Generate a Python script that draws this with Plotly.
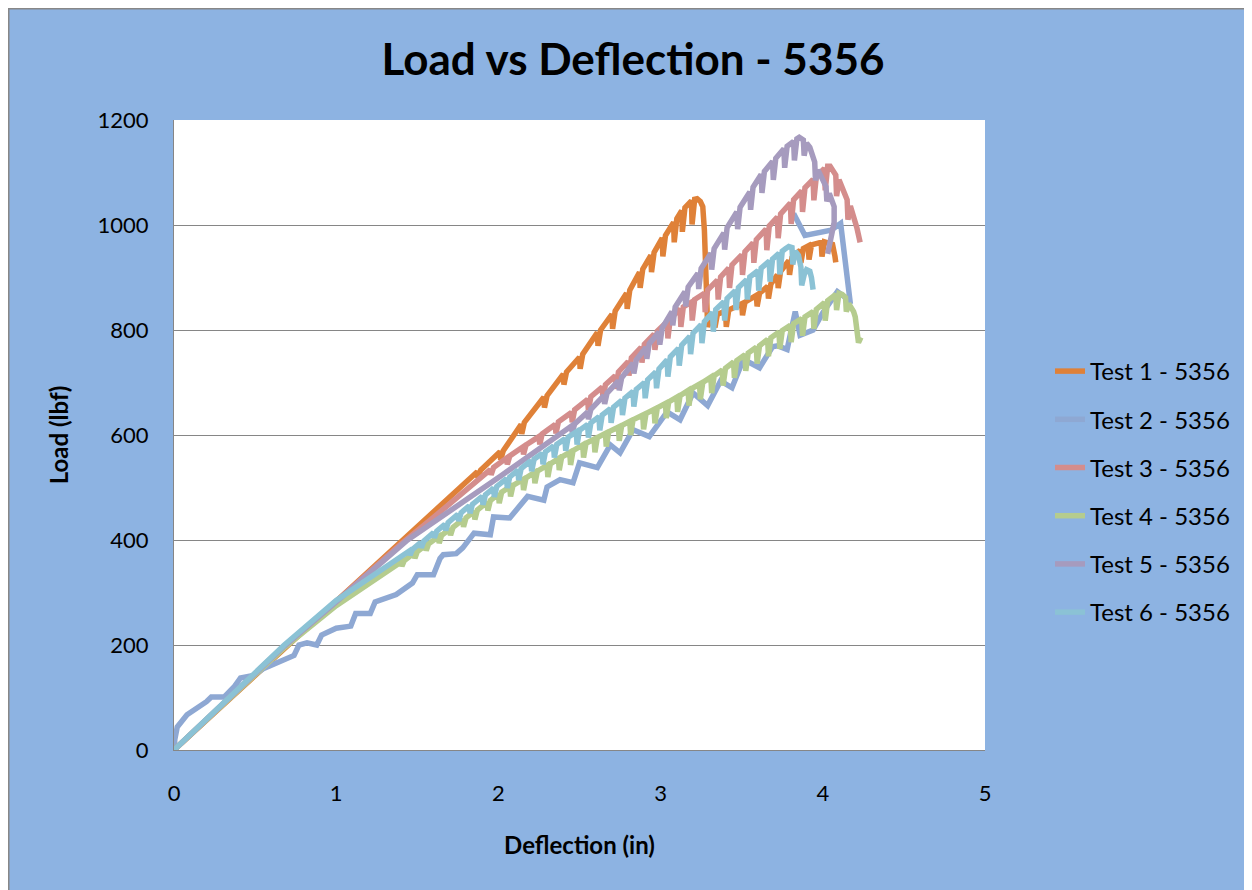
import plotly.graph_objects as go

# ---------------- text ----------------
title_text = "Load vs Deflection - 5356"
x_title = "Deflection (in)"
y_title = "Load (lbf)"
series_names = ["Test 1 - 5356", "Test 2 - 5356", "Test 3 - 5356",
                "Test 4 - 5356", "Test 5 - 5356", "Test 6 - 5356"]
series_colors = ["#DF8138", "#8EA8D3", "#D48D8C", "#B5CC8E", "#A69BBE", "#8BC2D5"]
x_ticks = [0, 1, 2, 3, 4, 5]
y_ticks = [0, 200, 400, 600, 800, 1000, 1200]

# ---------------- data (deflection in, load lbf) ----------------
test1 = [(0, 0), (0.5, 142), (1.0, 284), (1.5, 425), (1.76, 501),
         (1.87, 530), (1.874, 518), (1.89, 533),
         (2.01, 568), (2.014, 553), (2.03, 570),
         (2.14, 620), (2.144, 602), (2.16, 624),
         (2.28, 672), (2.284, 652), (2.30, 675),
         (2.40, 716), (2.404, 696), (2.42, 720),
         (2.50, 748), (2.504, 726), (2.52, 754),
         (2.61, 795), (2.614, 770), (2.63, 800),
         (2.70, 830), (2.704, 802), (2.72, 836),
         (2.79, 870), (2.794, 840), (2.81, 876),
         (2.87, 910), (2.874, 880), (2.89, 916),
         (2.94, 942), (2.944, 910), (2.96, 948),
         (3.01, 975), (3.014, 940), (3.03, 980),
         (3.08, 1005), (3.084, 967), (3.10, 1012),
         (3.13, 1027), (3.134, 987), (3.15, 1033),
         (3.19, 1046), (3.194, 1001), (3.21, 1049),
         (3.225, 1050), (3.245, 1045), (3.26, 1035),
         (3.27, 990), (3.28, 900), (3.29, 806),
         (3.30, 815), (3.33, 826), (3.335, 805), (3.35, 830),
         (3.40, 836), (3.405, 806), (3.42, 838),
         (3.50, 850), (3.505, 828), (3.52, 853),
         (3.59, 866), (3.595, 845), (3.61, 870),
         (3.66, 883), (3.665, 860), (3.68, 888),
         (3.72, 905), (3.725, 880), (3.74, 912),
         (3.79, 932), (3.795, 905), (3.81, 938),
         (3.86, 952), (3.865, 928), (3.88, 955),
         (3.91, 960), (3.915, 934), (3.93, 962),
         (3.99, 967), (3.995, 940), (4.01, 968),
         (4.06, 963), (4.075, 940), (4.08, 929)]

test2 = [(0, 0), (0.005, 20), (0.02, 44), (0.08, 67), (0.20, 92), (0.23, 101),
         (0.31, 101), (0.37, 120), (0.41, 137), (0.49, 142), (0.55, 155),
         (0.65, 168), (0.74, 180), (0.77, 200), (0.82, 204), (0.88, 200),
         (0.91, 219), (1.00, 232), (1.09, 236), (1.12, 260), (1.21, 260),
         (1.24, 282), (1.30, 288), (1.37, 296), (1.47, 318), (1.50, 334),
         (1.60, 334), (1.64, 365), (1.66, 372), (1.74, 374), (1.78, 385),
         (1.85, 413), (1.95, 410), (1.97, 444), (2.07, 442), (2.18, 483),
         (2.28, 476), (2.30, 501), (2.38, 515), (2.46, 509), (2.50, 547),
         (2.61, 538), (2.69, 581), (2.75, 566), (2.83, 610), (2.93, 597),
         (3.04, 644), (3.12, 629), (3.20, 680), (3.29, 656), (3.37, 703),
         (3.44, 690), (3.51, 744), (3.61, 728), (3.69, 768), (3.72, 770),
         (3.78, 763), (3.83, 835), (3.86, 790), (3.94, 800), (4.00, 833),
         (4.06, 862), (4.09, 873), (4.14, 862), (4.17, 850), (4.11, 1003),
         (4.05, 990), (3.89, 980), (3.82, 1022)]

test3 = [(0, 0), (0.68, 198), (1.0, 283), (1.39, 390), (1.60, 443), (1.81, 497),
         (1.95, 534), (1.955, 524), (1.97, 538),
         (2.05, 556), (2.055, 544), (2.07, 560),
         (2.15, 577), (2.155, 563), (2.17, 581),
         (2.25, 597), (2.255, 582), (2.27, 602),
         (2.35, 620), (2.355, 603), (2.37, 625),
         (2.45, 643), (2.455, 624), (2.47, 648),
         (2.55, 668), (2.555, 647), (2.57, 673),
         (2.64, 691), (2.645, 668), (2.66, 696),
         (2.72, 713), (2.725, 688), (2.74, 720),
         (2.80, 740), (2.805, 713), (2.82, 747),
         (2.88, 767), (2.885, 738), (2.90, 773),
         (2.96, 792), (2.965, 762), (2.98, 798),
         (3.04, 816), (3.045, 784), (3.06, 822),
         (3.12, 840), (3.125, 806), (3.14, 844),
         (3.19, 853), (3.195, 818), (3.21, 858),
         (3.27, 870), (3.275, 834), (3.29, 876),
         (3.35, 895), (3.355, 858), (3.37, 901),
         (3.42, 918), (3.425, 880), (3.44, 924),
         (3.50, 943), (3.505, 905), (3.52, 949),
         (3.57, 966), (3.575, 928), (3.59, 972),
         (3.65, 992), (3.655, 952), (3.67, 998),
         (3.72, 1015), (3.725, 975), (3.74, 1021),
         (3.80, 1042), (3.805, 1002), (3.82, 1048),
         (3.87, 1065), (3.875, 1025), (3.89, 1071),
         (3.94, 1087), (3.945, 1047), (3.96, 1092),
         (4.01, 1108), (4.015, 1066), (4.03, 1112), (4.045, 1112),
         (4.08, 1095), (4.085, 1055), (4.10, 1086),
         (4.15, 1048), (4.155, 1010), (4.17, 1036),
         (4.21, 995), (4.23, 967)]

test4 = [(0, 0), (0.68, 195), (1.0, 275),
         (1.40, 358), (1.405, 350), (1.42, 361),
         (1.48, 375), (1.485, 365), (1.50, 378),
         (1.55, 390), (1.555, 380), (1.57, 393),
         (1.63, 406), (1.635, 394), (1.65, 409),
         (1.70, 421), (1.705, 409), (1.72, 424),
         (1.78, 439), (1.785, 425), (1.80, 442),
         (1.85, 454), (1.855, 439), (1.87, 457),
         (1.93, 472), (1.935, 456), (1.95, 475),
         (2.00, 488), (2.005, 470), (2.02, 491),
         (2.07, 501), (2.075, 483), (2.09, 504),
         (2.15, 515), (2.155, 495), (2.17, 518),
         (2.22, 528), (2.225, 508), (2.24, 531),
         (2.30, 542), (2.305, 520), (2.32, 545),
         (2.37, 555), (2.375, 533), (2.39, 558),
         (2.44, 567), (2.445, 543), (2.46, 570),
         (2.52, 581), (2.525, 557), (2.54, 584),
         (2.59, 592), (2.595, 567), (2.61, 595),
         (2.66, 603), (2.665, 578), (2.68, 606),
         (2.74, 615), (2.745, 589), (2.76, 618),
         (2.81, 626), (2.815, 600), (2.83, 629),
         (2.89, 638), (2.895, 611), (2.91, 641),
         (2.96, 649), (2.965, 622), (2.98, 652),
         (3.03, 660), (3.035, 632), (3.05, 663),
         (3.10, 672), (3.105, 644), (3.12, 675),
         (3.17, 685), (3.175, 656), (3.19, 688),
         (3.24, 697), (3.245, 668), (3.26, 700),
         (3.31, 710), (3.315, 680), (3.33, 713),
         (3.38, 724), (3.385, 694), (3.40, 727),
         (3.45, 739), (3.455, 709), (3.47, 742),
         (3.52, 753), (3.525, 722), (3.54, 756),
         (3.59, 767), (3.595, 736), (3.61, 770),
         (3.66, 782), (3.665, 750), (3.68, 785),
         (3.73, 796), (3.735, 764), (3.75, 799),
         (3.80, 809), (3.805, 777), (3.82, 812),
         (3.87, 822), (3.875, 789), (3.89, 825),
         (3.94, 835), (3.945, 802), (3.96, 839),
         (4.01, 852), (4.015, 818), (4.03, 856),
         (4.08, 868), (4.085, 838), (4.10, 870),
         (4.12, 868), (4.14, 862), (4.145, 835), (4.16, 850),
         (4.19, 835), (4.20, 825), (4.21, 790), (4.22, 776), (4.235, 786)]

test5 = [(0, 0), (0.68, 198), (1.0, 282), (1.44, 400), (2.01, 521), (2.38, 600),
         (2.45, 617), (2.455, 605), (2.47, 621),
         (2.55, 644), (2.555, 630), (2.57, 649),
         (2.65, 675), (2.655, 659), (2.67, 680),
         (2.74, 703), (2.745, 685), (2.76, 709),
         (2.83, 737), (2.835, 717), (2.85, 743),
         (2.91, 767), (2.915, 745), (2.93, 774),
         (2.99, 796), (2.995, 772), (3.01, 804),
         (3.07, 835), (3.075, 809), (3.09, 844),
         (3.15, 873), (3.155, 845), (3.17, 882),
         (3.23, 908), (3.235, 878), (3.25, 917),
         (3.31, 946), (3.315, 915), (3.33, 955),
         (3.39, 985), (3.395, 953), (3.41, 995),
         (3.47, 1025), (3.475, 992), (3.49, 1034),
         (3.55, 1063), (3.555, 1029), (3.57, 1072),
         (3.62, 1096), (3.625, 1061), (3.64, 1102),
         (3.69, 1121), (3.695, 1086), (3.71, 1127),
         (3.76, 1145), (3.765, 1109), (3.78, 1150),
         (3.82, 1159), (3.825, 1123), (3.84, 1164),
         (3.855, 1167), (3.88, 1162), (3.885, 1132), (3.90, 1156),
         (3.92, 1148), (3.95, 1120), (3.955, 1085), (3.97, 1105),
         (4.02, 1073), (4.025, 1045), (4.04, 1060), (4.07, 1035),
         (4.07, 1005), (4.05, 975), (4.03, 945)]

test6 = [(0, 0), (0.68, 200), (1.0, 285), (1.39, 365),
         (1.45, 379), (1.455, 371), (1.47, 382),
         (1.52, 395), (1.525, 385), (1.54, 398),
         (1.60, 414), (1.605, 404), (1.62, 417),
         (1.67, 430), (1.675, 418), (1.69, 433),
         (1.75, 449), (1.755, 436), (1.77, 452),
         (1.82, 465), (1.825, 451), (1.84, 468),
         (1.90, 483), (1.905, 467), (1.92, 486),
         (1.97, 499), (1.975, 482), (1.99, 502),
         (2.05, 517), (2.055, 499), (2.07, 520),
         (2.12, 533), (2.125, 514), (2.14, 536),
         (2.20, 551), (2.205, 531), (2.22, 554),
         (2.27, 565), (2.275, 544), (2.29, 568),
         (2.34, 579), (2.345, 557), (2.36, 582),
         (2.41, 593), (2.415, 570), (2.43, 596),
         (2.48, 606), (2.485, 582), (2.50, 609),
         (2.55, 620), (2.555, 595), (2.57, 623),
         (2.62, 635), (2.625, 609), (2.64, 638),
         (2.69, 650), (2.695, 623), (2.71, 653),
         (2.76, 666), (2.765, 638), (2.78, 670),
         (2.83, 683), (2.835, 654), (2.85, 687),
         (2.90, 700), (2.905, 670), (2.92, 705),
         (2.97, 720), (2.975, 689), (2.99, 726),
         (3.04, 743), (3.045, 711), (3.06, 749),
         (3.11, 765), (3.115, 732), (3.13, 771),
         (3.18, 788), (3.185, 754), (3.20, 794),
         (3.25, 810), (3.255, 775), (3.27, 816),
         (3.32, 833), (3.325, 797), (3.34, 839),
         (3.39, 854), (3.395, 818), (3.41, 860),
         (3.46, 875), (3.465, 838), (3.48, 881),
         (3.53, 896), (3.535, 858), (3.55, 901),
         (3.60, 913), (3.605, 875), (3.62, 918),
         (3.67, 931), (3.675, 892), (3.69, 935),
         (3.73, 946), (3.735, 906), (3.75, 950),
         (3.77, 955), (3.79, 959), (3.81, 957), (3.815, 925), (3.83, 950),
         (3.85, 942), (3.865, 920), (3.87, 885), (3.885, 905), (3.90, 915),
         (3.92, 912), (3.93, 900), (3.94, 877)]

all_series = [test1, test2, test3, test4, test5, test6]

# ---------------- figure ----------------
FONT = "Lato"
fig = go.Figure()
for i, (pts, name, color) in enumerate(zip(all_series, series_names, series_colors)):
    fig.add_trace(go.Scatter(
        x=[p[0] for p in pts], y=[p[1] for p in pts],
        mode="lines", name=name, legendgroup=f"g{i}",
        line=dict(color=color, width=5.5),
    ))

# geometry in figure pixels (page body adds an 8px offset)
W, H = 1252, 890
L, R, T, B = 166, 977, 112, 742
pw, ph = R - L, B - T

def px_x(p):
    return (p - L) / pw

def px_y(p):
    return (B - p) / ph

shapes = [
    dict(type="rect", xref="paper", yref="paper", layer="below",
         x0=px_x(0.75), x1=px_x(W - 0.75), y0=px_y(H - 0.75), y1=px_y(0.75),
         fillcolor="rgba(0,0,0,0)", line=dict(color="#878787", width=1.5)),
]

fig.update_layout(
    width=W, height=H, autosize=False,
    margin=dict(l=L, r=W - R, t=T, b=H - B, pad=0),
    paper_bgcolor="#8DB3E2", plot_bgcolor="white",
    font=dict(family=FONT, color="black"),
    shapes=shapes,
    title=dict(text=title_text, x=625 / W, xanchor="center",
               y=1 - 52 / H, yanchor="middle",
               font=dict(family=FONT, size=44, weight="bold", color="black")),
    xaxis=dict(range=[0, 5], tickvals=x_ticks, ticktext=[str(v) for v in x_ticks],
               showgrid=False, zeroline=False, showline=True,
               linecolor="#868686", linewidth=1,
               ticks="outside", ticklen=24, tickcolor="rgba(0,0,0,0)",
               tickfont=dict(family=FONT, size=22, color="black"),
               title=dict(text=x_title, standoff=31,
                          font=dict(family=FONT, size=24, weight="bold", color="black"))),
    yaxis=dict(range=[0, 1200], tickvals=y_ticks, ticktext=[str(v) for v in y_ticks],
               showgrid=True, gridcolor="#868686", gridwidth=1,
               zeroline=False, showline=True, linecolor="#868686", linewidth=1,
               ticks="outside", ticklen=20, tickcolor="rgba(0,0,0,0)",
               tickfont=dict(family=FONT, size=22, color="black"),
               title=dict(text=y_title, standoff=22,
                          font=dict(family=FONT, size=24, weight="bold", color="black"))),
    legend=dict(x=px_x(1042), xanchor="left", y=px_y(341), yanchor="top",
                bgcolor="rgba(0,0,0,0)", borderwidth=0,
                font=dict(family=FONT, size=24, color="black"),
                traceorder="grouped", tracegroupgap=14),
)

fig.write_html("out.html")
